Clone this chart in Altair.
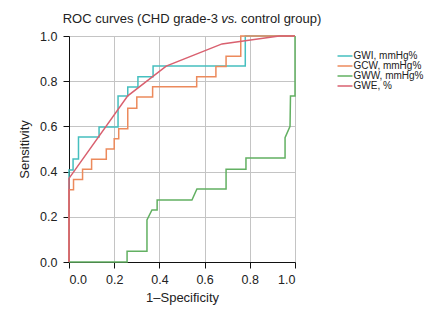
import altair as alt
import pandas as pd

series_names = ["GWI, mmHg%", "GCW, mmHg%", "GWW, mmHg%", "GWE, %"]
series_colors = ["#45bfbf", "#ec8a5c", "#62b062", "#d9606f"]

gwi_x = [0, 0, 0.018, 0.018, 0.042, 0.042, 0.133, 0.133, 0.217, 0.217, 0.26, 0.26,
         0.305, 0.305, 0.372, 0.372, 0.78, 0.78, 1.0]
gwi_y = [0, 0.407, 0.407, 0.456, 0.456, 0.553, 0.553, 0.597, 0.597, 0.735, 0.735, 0.774,
         0.774, 0.82, 0.82, 0.867, 0.867, 1.0, 1.0]

gcw_x = [0, 0, 0.02, 0.02, 0.06, 0.06, 0.1, 0.1, 0.165, 0.165, 0.2, 0.2, 0.22, 0.22,
         0.26, 0.26, 0.3, 0.3, 0.37, 0.37, 0.565, 0.565, 0.65, 0.65, 0.695, 0.695,
         0.76, 0.76, 1.0]
gcw_y = [0, 0.32, 0.32, 0.365, 0.365, 0.41, 0.41, 0.455, 0.455, 0.5, 0.5, 0.545, 0.545,
         0.59, 0.59, 0.68, 0.68, 0.73, 0.73, 0.775, 0.775, 0.82, 0.82, 0.865, 0.865,
         0.91, 0.91, 1.0, 1.0]

gww_x = [0, 0.257, 0.257, 0.345, 0.345, 0.367, 0.39, 0.39, 0.544, 0.566, 0.695, 0.695,
         0.783, 0.783, 0.956, 0.956, 0.978, 0.98, 1.0, 1.0]
gww_y = [0, 0, 0.048, 0.048, 0.186, 0.23, 0.23, 0.274, 0.274, 0.323, 0.323, 0.41,
         0.41, 0.46, 0.46, 0.55, 0.6, 0.735, 0.735, 1.0]

gwe_x = [0, 0, 0.26, 0.43, 0.677, 0.93, 1.0]
gwe_y = [0, 0.37, 0.735, 0.867, 0.965, 1.0, 1.0]

x_ticks = [0.0, 0.2, 0.4, 0.6, 0.8, 1.0]
y_ticks = [0.0, 0.2, 0.4, 0.6, 0.8, 1.0]

rows = []
for name, xs, ys in zip(series_names, [gwi_x, gcw_x, gww_x, gwe_x], [gwi_y, gcw_y, gww_y, gwe_y]):
    for i, (a, b) in enumerate(zip(xs, ys)):
        rows.append({"series": name, "fpr": a, "tpr": b, "order": i})
df = pd.DataFrame(rows)

FONT = "Liberation Sans"

lines = alt.Chart(df).mark_line(strokeWidth=1.5, interpolate="linear").encode(
    x=alt.X("fpr:Q", scale=alt.Scale(domain=[0, 1], nice=False),
            axis=alt.Axis(title="1–Specificity", values=x_ticks, format=".1f",
                          grid=True, gridColor="#c4c4c4", gridWidth=1,
                          domainColor="#111", tickColor="#111", tickSize=6,
                          labelPadding=5, titlePadding=6, labelFontSize=12.5,
                          titleFontSize=13, titleFontWeight="normal",
                          labelColor="#222", titleColor="#222",
                          labelFont=FONT, titleFont=FONT)),
    y=alt.Y("tpr:Q", scale=alt.Scale(domain=[0, 1], nice=False),
            axis=alt.Axis(title="Sensitivity", values=y_ticks, format=".1f",
                          grid=True, gridColor="#c4c4c4", gridWidth=1,
                          domainColor="#111", tickColor="#111", tickSize=6,
                          labelPadding=6, titlePadding=8, labelFontSize=12.5,
                          titleFontSize=13, titleFontWeight="normal",
                          labelColor="#222", titleColor="#222",
                          labelFont=FONT, titleFont=FONT)),
    color=alt.Color("series:N", sort=series_names,
                    scale=alt.Scale(domain=series_names, range=series_colors),
                    legend=alt.Legend(title=None, orient="none", legendX=271, legendY=15,
                                      symbolType="M-2,0H2", symbolSize=56,
                                      symbolStrokeWidth=1.5, labelFontSize=10,
                                      symbolFillColor="transparent",
                                      labelFont=FONT, labelColor="#222",
                                      labelOffset=3.5, rowPadding=-3, padding=0)),
    order=alt.Order("order:Q"),
)

title_size = 13
t1 = alt.Chart(pd.DataFrame({"t": ["ROC curves (CHD grade-3"]})).mark_text(
    align="right", baseline="alphabetic", font=FONT, fontSize=title_size, color="#222"
).encode(text="t:N", x=alt.value(149), y=alt.value(-13.5))
t2 = alt.Chart(pd.DataFrame({"t": ["vs."]})).mark_text(
    align="center", baseline="alphabetic", font=FONT, fontSize=title_size,
    fontStyle="italic", color="#222"
).encode(text="t:N", x=alt.value(160.5), y=alt.value(-13.5))
t3 = alt.Chart(pd.DataFrame({"t": ["control group)"]})).mark_text(
    align="left", baseline="alphabetic", font=FONT, fontSize=title_size, color="#222"
).encode(text="t:N", x=alt.value(172), y=alt.value(-13.5))

chart = alt.layer(lines, t1, t2, t3).properties(
    width=226, height=226,
    autosize=alt.AutoSizeParams(type="none"),
    padding={"left": 61, "top": 28, "right": 132, "bottom": 50},
    background="white",
).configure_view(stroke=None)

chart.save("out.html", embed_options={"renderer": "svg", "actions": False})
